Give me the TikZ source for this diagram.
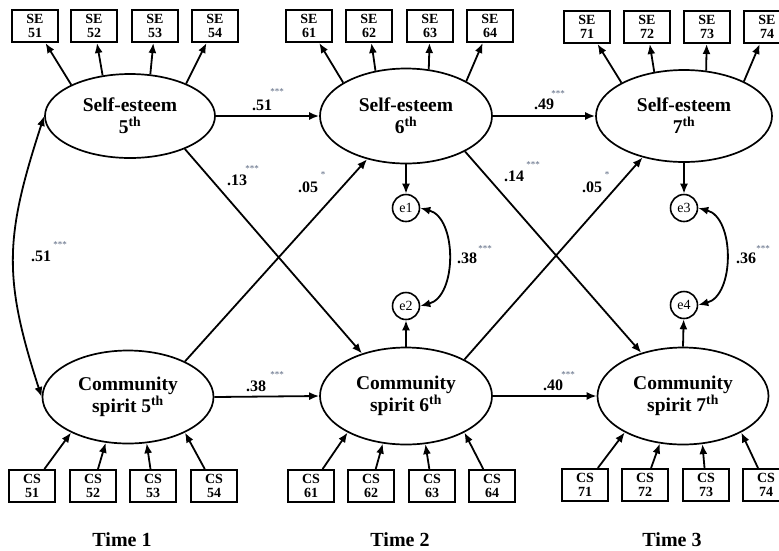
\documentclass[tikz,border=0pt]{standalone}
\usepackage{fontspec}
\setmainfont{Liberation Serif}
\usetikzlibrary{shapes.geometric,arrows.meta}
\definecolor{starc}{HTML}{54627C}
\begin{document}
\begin{tikzpicture}[x=1pt,y=-1pt,
  lat/.style={ellipse,draw,line width=1.7pt,inner sep=0pt,align=center,font=\fontsize{19.5}{22}\selectfont\bfseries},
  ind/.style={rectangle,draw,line width=2pt,minimum width=46pt,minimum height=32pt,inner sep=0pt,align=center,font=\fontsize{14}{14.5}\selectfont\bfseries},
  err/.style={circle,draw,line width=1.6pt,minimum size=27pt,inner sep=0pt,font=\fontsize{14}{14}\selectfont},
  arr/.style={-{Latex[length=10pt,width=8pt]},line width=1.8pt},
  dbl/.style={{Latex[length=10pt,width=8pt]}-{Latex[length=10pt,width=8pt]},line width=1.8pt},
  lab/.style={font=\fontsize{16}{16}\selectfont\bfseries,inner sep=0pt},
  stars/.style={font=\fontsize{9}{9}\selectfont,text=starc,inner sep=0pt},
  timelab/.style={font=\fontsize{20}{20}\selectfont\bfseries}]
\useasboundingbox (0,0) rectangle (779,550);

% latent variables
\node[lat,minimum width=170pt,minimum height=84pt] (SE5) at (130,116) {Self-esteem\\5\textsuperscript{th}};
\node[lat,minimum width=172pt,minimum height=95pt] (SE6) at (406,116) {Self-esteem\\6\textsuperscript{th}};
\node[lat,minimum width=176pt,minimum height=92pt] (SE7) at (684,116) {Self-esteem\\7\textsuperscript{th}};
\node[lat,minimum width=171pt,minimum height=93pt] (CS5) at (128,397) {Community\\spirit 5\textsuperscript{th}};
\node[lat,minimum width=172pt,minimum height=97pt] (CS6) at (406,396) {Community\\spirit 6\textsuperscript{th}};
\node[lat,minimum width=171pt,minimum height=97pt] (CS7) at (683,396) {Community\\spirit 7\textsuperscript{th}};

% indicators
\node[ind] (SE51) at (35,26) {SE\\51};
\node[ind] (SE52) at (94,26) {SE\\52};
\node[ind] (SE53) at (155,26) {SE\\53};
\node[ind] (SE54) at (215,26) {SE\\54};
\node[ind] (SE61) at (309,26) {SE\\61};
\node[ind] (SE62) at (369,26) {SE\\62};
\node[ind] (SE63) at (430,26) {SE\\63};
\node[ind] (SE64) at (490,26) {SE\\64};
\node[ind] (SE71) at (587,27) {SE\\71};
\node[ind] (SE72) at (647,27) {SE\\72};
\node[ind] (SE73) at (707,27) {SE\\73};
\node[ind] (SE74) at (767,27) {SE\\74};
\node[ind] (CS51) at (32,486) {CS\\51};
\node[ind] (CS52) at (93,486) {CS\\52};
\node[ind] (CS53) at (153,486) {CS\\53};
\node[ind] (CS54) at (214,486) {CS\\54};
\node[ind] (CS61) at (311,486) {CS\\61};
\node[ind] (CS62) at (371,486) {CS\\62};
\node[ind] (CS63) at (432,486) {CS\\63};
\node[ind] (CS64) at (492,486) {CS\\64};
\node[ind] (CS71) at (585,485) {CS\\71};
\node[ind] (CS72) at (645,485) {CS\\72};
\node[ind] (CS73) at (706,485) {CS\\73};
\node[ind] (CS74) at (766,485) {CS\\74};

% loadings
\foreach \t in {5,6,7}{
  \draw[arr] (SE\t.152) -- (SE\t1);
  \draw[arr] (SE\t.124) -- (SE\t2);
  \draw[arr] (SE\t.64) -- (SE\t3);
  \draw[arr] (SE\t.30) -- (SE\t4);
  \draw[arr] (CS\t1) -- (CS\t.-148);
  \draw[arr] (CS\t2) -- (CS\t.-116);
  \draw[arr] (CS\t3) -- (CS\t.-68);
  \draw[arr] (CS\t4) -- (CS\t.-32);
}

% residuals
\node[err] (e1) at (406,208) {e1};
\node[err] (e2) at (406,306) {e2};
\node[err] (e3) at (684,208) {e3};
\node[err] (e4) at (684,305) {e4};
\draw[arr] (SE6.south) -- (e1);
\draw[arr] (CS6.north) -- (e2);
\draw[arr] (SE7.south) -- (e3);
\draw[arr] (CS7.north) -- (e4);
\draw[dbl] (e1.east) to[out=-15,in=15,looseness=1.0] (e2.east);
\draw[dbl] (e3.east) to[out=-15,in=15,looseness=1.0] (e4.east);

% structural paths
\draw[arr] (SE5.east) -- (SE6.west);
\draw[arr] (SE6.east) -- (SE7.west);
\draw[arr] (CS5.east) -- (CS6.west);
\draw[arr] (CS6.east) -- (CS7.west);
\draw[arr] (SE5.-31) -- (CS6.136);
\draw[arr] (CS5.32) -- (SE6.-132);
\draw[arr] (SE6.-31) -- (CS7.134);
\draw[arr] (CS6.32) -- (SE7.-135);
\draw[dbl] (SE5.west) to[out=-108,in=108,looseness=1.15] (CS5.west);

% coefficients
\node[lab] (c1) at (262,105) {.51};   \node[stars] (c1s) at (277,92) {***};
\node[lab] (c2) at (544,104) {.49};   \node[stars] (c2s) at (558,94) {***};
\node[lab] (c3) at (256,386) {.38};   \node[stars] (c3s) at (277,375) {***};
\node[lab] (c4) at (553,385) {.40};   \node[stars] (c4s) at (568,375) {***};
\node[lab] (c5) at (237,180) {.13};   \node[stars] (c5s) at (252,169) {***};
\node[lab] (c6) at (308,187) {.05};   \node[stars] (c6s) at (323,175) {*};
\node[lab] (c7) at (514,176) {.14};   \node[stars] (c7s) at (533,165) {***};
\node[lab] (c8) at (592,187) {.05};   \node[stars] (c8s) at (607,175) {*};
\node[lab] (c9) at (467,258) {.38};   \node[stars] (c9s) at (485,249) {***};
\node[lab] (c10) at (746,258) {.36};  \node[stars] (c10s) at (763,249) {***};
\node[lab] (c11) at (41,256) {.51};   \node[stars] (c11s) at (60,245) {***};

% time labels
\node[timelab] (t1) at (122,540) {Time 1};
\node[timelab] (t2) at (400,540) {Time 2};
\node[timelab] (t3) at (672,540) {Time 3};
\end{tikzpicture}
\end{document}
